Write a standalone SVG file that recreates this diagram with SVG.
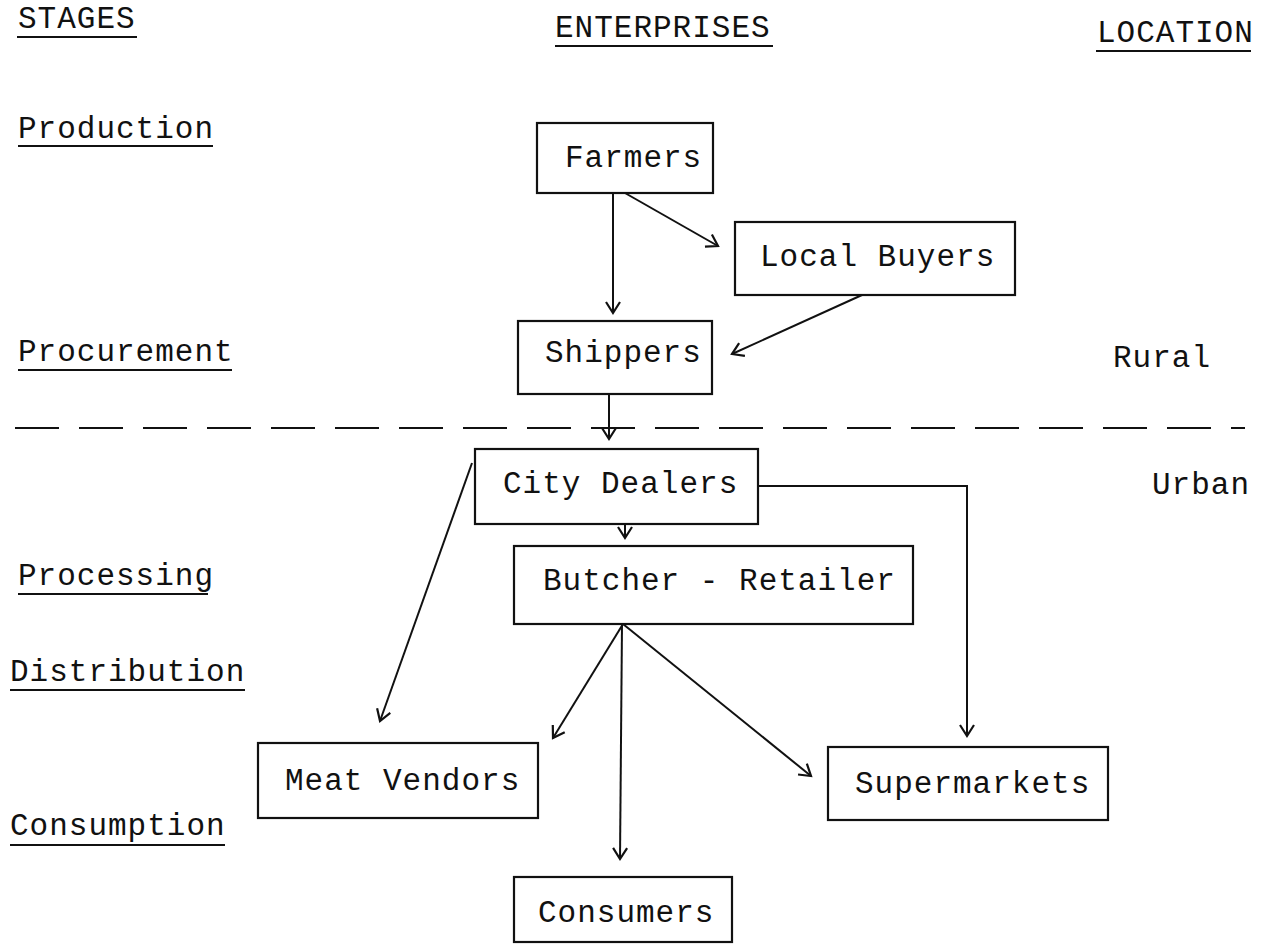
<svg xmlns="http://www.w3.org/2000/svg" width="1265" height="946" viewBox="0 0 1265 946">
<style>
text{font-family:"Liberation Mono","DejaVu Sans Mono",monospace;font-size:31px;letter-spacing:1px;fill:#111}
.box{fill:none;stroke:#111;stroke-width:2.2}
.ul{stroke:#111;stroke-width:2}
.c{fill:none;stroke:#111;stroke-width:2}
</style>
<defs>
<marker id="ah" markerUnits="userSpaceOnUse" markerWidth="18" markerHeight="18" refX="13" refY="8" orient="auto" viewBox="0 0 18 16">
<path d="M2,1 L13,8 L2,15" fill="none" stroke="#111" stroke-width="2.2"/>
</marker>
</defs>
<rect width="1265" height="946" fill="#fff"/>
<g id="headers">
<text x="18" y="28">STAGES</text><line class="ul" x1="17" y1="37" x2="137" y2="37"/>
<text x="555" y="37">ENTERPRISES</text><line class="ul" x1="555" y1="46" x2="773" y2="46"/>
<text x="1097" y="42">LOCATION</text><line class="ul" x1="1096" y1="51" x2="1251" y2="51"/>
</g>
<g id="stages">
<text x="18" y="138">Production</text><line class="ul" x1="18" y1="146" x2="213" y2="146"/>
<text x="18" y="361">Procurement</text><line class="ul" x1="18" y1="370" x2="232" y2="370"/>
<text x="18" y="585">Processing</text><line class="ul" x1="18" y1="594" x2="208" y2="594"/>
<text x="10" y="681">Distribution</text><line class="ul" x1="10" y1="690" x2="245" y2="690"/>
<text x="10" y="835">Consumption</text><line class="ul" x1="10" y1="845" x2="225" y2="845"/>
</g>
<g id="locations">
<text x="1113" y="367">Rural</text>
<text x="1152" y="494">Urban</text>
<line class="ul" x1="15" y1="428" x2="1245" y2="428" stroke-dasharray="44 20"/>
</g>
<g id="farmers"><rect class="box" x="537" y="123" width="176" height="70"/><text x="565" y="167">Farmers</text></g>
<g id="local-buyers"><rect class="box" x="735" y="222" width="280" height="73"/><text x="760" y="266">Local Buyers</text></g>
<g id="shippers"><rect class="box" x="518" y="321" width="194" height="73"/><text x="545" y="362">Shippers</text></g>
<g id="city-dealers"><rect class="box" x="475" y="449" width="283" height="75"/><text x="503" y="493">City Dealers</text></g>
<g id="butcher-retailer"><rect class="box" x="514" y="546" width="399" height="78"/><text x="543" y="590">Butcher - Retailer</text></g>
<g id="meat-vendors"><rect class="box" x="258" y="743" width="280" height="75"/><text x="285" y="790">Meat Vendors</text></g>
<g id="supermarkets"><rect class="box" x="828" y="747" width="280" height="73"/><text x="855" y="793">Supermarkets</text></g>
<g id="consumers"><rect class="box" x="514" y="877" width="218" height="65"/><text x="538" y="922">Consumers</text></g>
<g id="connectors">
<line class="c" x1="613" y1="193" x2="613" y2="313" marker-end="url(#ah)"/>
<line class="c" x1="625" y1="193" x2="718" y2="246" marker-end="url(#ah)"/>
<line class="c" x1="862" y1="295" x2="732" y2="354" marker-end="url(#ah)"/>
<line class="c" x1="609" y1="394" x2="609" y2="439" marker-end="url(#ah)"/>
<line class="c" x1="625" y1="524" x2="625" y2="538" marker-end="url(#ah)"/>
<line class="c" x1="472" y1="463" x2="380" y2="721" marker-end="url(#ah)"/>
<polyline class="c" points="758,486 967,486 967,736" marker-end="url(#ah)"/>
<line class="c" x1="623" y1="624" x2="553" y2="738" marker-end="url(#ah)"/>
<line class="c" x1="622" y1="624" x2="620" y2="859" marker-end="url(#ah)"/>
<line class="c" x1="623" y1="624" x2="811" y2="776" marker-end="url(#ah)"/>
</g>
</svg>
